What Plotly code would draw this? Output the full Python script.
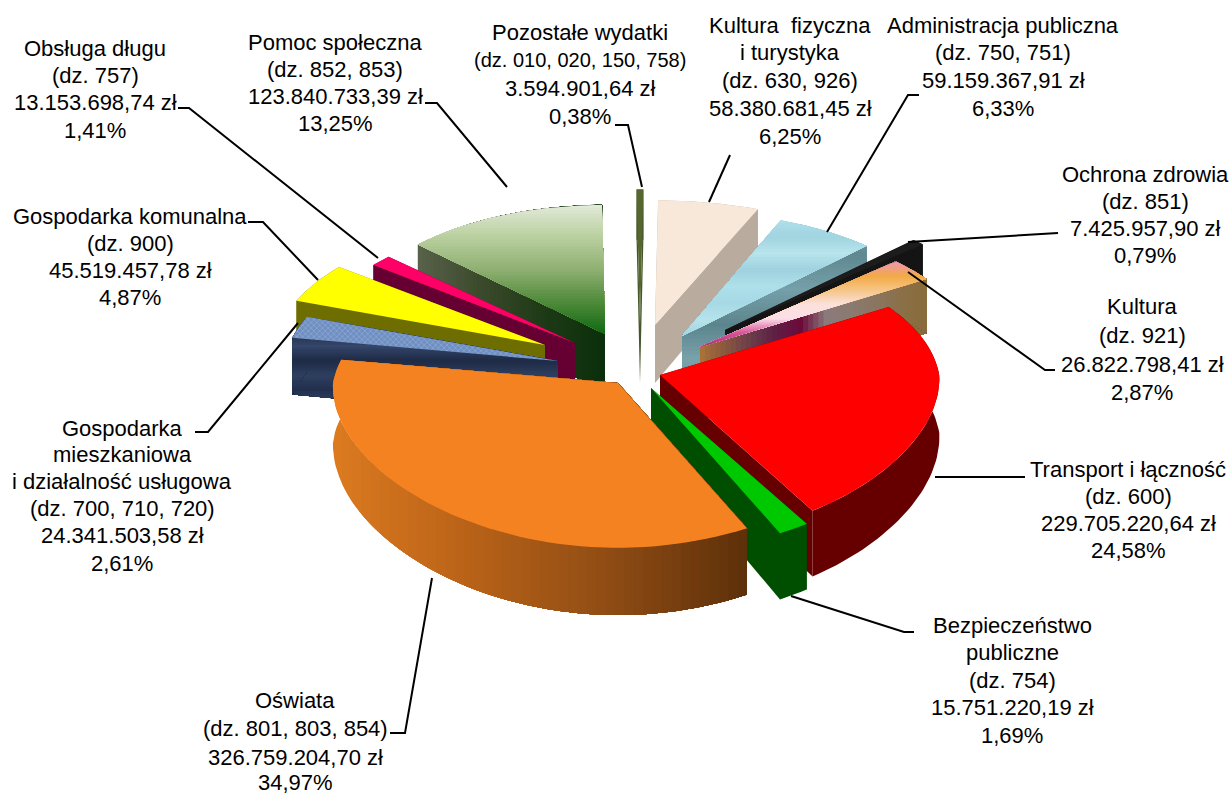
import math
import plotly.graph_objects as go

# ---------- data ----------
ORDER_NAMES = ["Pozostałe", "Kultura fizyczna", "Administracja", "Ochrona zdrowia", "Kultura",
               "Transport", "Bezpieczeństwo", "Oświata", "Mieszkaniowa", "Komunalna", "Dług", "Pomoc"]
AMOUNTS = [3594901.64, 58380681.45, 59159367.91, 7425957.90, 26822798.41, 229705220.64,
           15751220.19, 326759204.70, 24341503.58, 45519457.78, 13153698.74, 123840733.39]
PERCENTS = [0.38, 6.25, 6.33, 0.79, 2.87, 24.58, 1.69, 34.97, 2.61, 4.87, 1.41, 13.25]
TITLES = [
    ["Pozostałe wydatki", "(dz. 010, 020, 150, 758)"],
    ["Kultura  fizyczna", "i turystyka", "(dz. 630, 926)"],
    ["Administracja publiczna", "(dz. 750, 751)"],
    ["Ochrona zdrowia", "(dz. 851)"],
    ["Kultura", "(dz. 921)"],
    ["Transport i łączność", "(dz. 600)"],
    ["Bezpieczeństwo", "publiczne", "(dz. 754)"],
    ["Oświata", "(dz. 801, 803, 854)"],
    ["Gospodarka", "mieszkaniowa", "i działalność usługowa", "(dz. 700, 710, 720)"],
    ["Gospodarka komunalna", "(dz. 900)"],
    ["Obsługa długu", "(dz. 757)"],
    ["Pomoc społeczna", "(dz. 852, 853)"],
]

# ---------- layout of the exploded pie (pixels, not data) ----------
START_DEG = -0.7
RX, RY, K, H = 285, 142, 0.138, 58
APEX = [(640, 325), (655, 325), (682, 336), (725, 330), (700, 347), (660, 375),
        (651, 388), (618, 383), (558, 361), (545, 345), (575, 343), (605, 334)]
RADIUS = [1.1, 1, 1, 1, 1, 1, 1, 1, 1, 1, 1, 1.04]
X_FACTOR = [1, 1, 0.96, 0.98, 0.97, 0.98, 1, 1, 0.96, 0.95, 0.93, 0.9]
PAINT = [11, 10, 9, 8, 0, 1, 2, 3, 4, 5, 6, 7]
LABEL_POS = [  # centre x, y of each line
    (580, [32, 60, 88, 116]),
    (790, [25, 52, 80, 108, 136]),
    (1003, [25, 52, 80, 108]),
    (1145, [174, 201, 228, 255]),
    (1142, [306, 335, 364, 392]),
    (1128, [469, 496, 523, 550]),
    (1012, [625, 652, 680, 707, 735]),
    (295, [700, 728, 757, 782]),
    (122, [428, 454, 481, 508, 535, 563]),
    (130, [216, 243, 270, 297]),
    (95, [48, 75, 102, 130]),
    (335, [42, 69, 96, 123]),
]
SMALL_LINES = {"(dz. 010, 020, 150, 758)": 20}
LEADERS = [
    [(615, 125), (628, 125), (642, 187)],
    [(730, 155), (709, 202)],
    [(919, 95), (908, 95), (827, 232)],
    [(1058, 233), (908, 242)],
    [(1055, 370), (1045, 370), (908, 272)],
    [(1025, 477), (935, 477)],
    [(791, 596), (904, 632), (914, 632)],
    [(432, 578), (405, 733), (390, 733)],
    [(195, 432), (208, 432), (298, 323)],
    [(248, 222), (263, 222), (318, 280)],
    [(178, 108), (189, 108), (378, 258)],
    [(425, 103), (437, 103), (507, 187)],
]
STYLE = [
    dict(top=["#55662f", "#55662f"], wall=["#46562a", "#46562a"]),
    dict(top=["#f8e8da", "#f8e8da"], wall=["#b9ac9f", "#b9ac9f"]),
    dict(top=["#aee0ea", "#a0d4e0", "#b8e4ec", "#9fd2de", "#aee0ea", "#a6d9e5", "#b6e3eb", "#a2d5e1"],
         wall=["#7fa6ae", "#5f8891", "#76a0a9", "#5b848d", "#7aa2ab", "#6a939c"], wall_axis="y"),
    dict(top=["#1c1c1c", "#1c1c1c"], wall=["#141414", "#141414"]),
    dict(top=["#ef97b5", "#f2a945", "#f5c585", "#fbe0da", "#fbdfe8", "#d9559a", "#a83070"],
         wall=["#a87138", "#8a5840", "#6a3d4a", "#5e1f45", "#6c0a3a", "#8b7a7b", "#8a7a70",
               "#8a7560", "#8a7048", "#8a6c3a"]),
    dict(top=["#ff0000", "#ff0000"], wall=["#660000", "#660000"]),
    dict(top=["#00c800", "#00c800"], wall=["#004f00", "#004f00"]),
    dict(top=["#f58220", "#f58220"], wall=["#dc7a20", "#b86218", "#8f4c14", "#5d300a"]),
    dict(top=["#7d9bcb", "#7d9bcb"], wall=["#2b3a5c", "#1f2c47", "#34466a", "#1e2a45", "#2e3f60", "#212f4c", "#33446a", "#263552"],
         wall_axis="y", pattern=True),
    dict(top=["#ffff00", "#ffff00"], wall=["#6e6e00", "#6e6e00"]),
    dict(top=["#ff0066", "#ff0066"], wall=["#660033", "#660033"]),
    dict(top=["#e2ead9", "#b8cf9e", "#8fb072", "#4f8a3a", "#0f6a12"],
         wall=["#58624a", "#3c4a2c", "#1e3a16", "#0a2f0a"]),
]

N_ARC = 60
N_BAND = 44


def project(apex, r, deg, xf=1.0, z=0.0):
    t = math.radians(deg)
    d = r * math.cos(t)
    s = 1 / (1 + K * d)
    sx = 1 - 0.09 * d if d > 0 else 1 - 0.025 * d
    return (apex[0] + RX * xf * r * math.sin(t) * sx, apex[1] - RY * r * math.cos(t) * s + z * H * s)


def hex_rgb(c):
    return tuple(int(c[i:i + 2], 16) for i in (1, 3, 5))


def mix(stops, t):
    p = t * (len(stops) - 1)
    i = min(int(p), len(stops) - 2)
    a, b = hex_rgb(stops[i]), hex_rgb(stops[i + 1])
    f = p - i
    return "rgb(%d,%d,%d)" % tuple(round(a[j] + (b[j] - a[j]) * f) for j in range(3))


def clip(poly, axis, c):
    out = []
    for i, p in enumerate(poly):
        q = poly[(i + 1) % len(poly)]
        pin, qin = p[axis] >= c, q[axis] >= c
        if pin:
            out.append(p)
        if pin != qin:
            f = (c - p[axis]) / (q[axis] - p[axis])
            out.append((p[0] + (q[0] - p[0]) * f, p[1] + (q[1] - p[1]) * f))
    return out


fig = go.Figure()


def add_poly(poly, color, pattern=None):
    xs = [p[0] for p in poly] + [poly[0][0]]
    ys = [p[1] for p in poly] + [poly[0][1]]
    kw = {}
    if pattern:
        kw["fillpattern"] = pattern
    fig.add_trace(go.Scatter(x=xs, y=ys, mode="lines", fill="toself", fillcolor=color,
                             line=dict(width=0, color=color), hoverinfo="skip", showlegend=False, **kw))


def painted(poly, stops, axis, span=None):
    if len(set(stops)) == 1:
        add_poly(poly, stops[0])
        return
    vals = [p[axis] for p in poly]
    lo, hi = span if span else (min(vals), max(vals))
    add_poly(poly, mix(stops, 0))
    for b in range(1, N_BAND):
        c = lo + (hi - lo) * b / N_BAND
        part = clip(poly, axis, c)
        if len(part) >= 3:
            add_poly(part, mix(stops, (b + 0.5) / N_BAND))


total = sum(AMOUNTS)
angles = [START_DEG]
for a in AMOUNTS:
    angles.append(angles[-1] + 360 * a / total)

for i in PAINT:
    a0, a1, ap, r, xf, st = angles[i], angles[i + 1], APEX[i], RADIUS[i], X_FACTOR[i], STYLE[i]
    arc = [a0 + (a1 - a0) * n / N_ARC for n in range(N_ARC + 1)]
    top_arc = [project(ap, r, d, xf) for d in arc]
    bot_arc = [project(ap, r, d, xf, 1) for d in arc]
    base = (ap[0], ap[1] + H)
    wall_col = st["wall"]
    axis = 1 if st.get("wall_axis") == "y" else 0
    everything = [ap, base] + top_arc + bot_arc
    vals = [p[axis] for p in everything]
    span = (min(vals), max(vals))
    for tp, bt in ((top_arc[-1], bot_arc[-1]), (top_arc[0], bot_arc[0])):
        painted([ap, tp, bt, base], wall_col, axis, span)
    painted(top_arc + bot_arc[::-1], wall_col, axis, span)
    face = [ap] + top_arc
    if st.get("pattern"):
        add_poly(face, st["top"][0], dict(shape="x", fgcolor="#a9bfe0", bgcolor="#6f8fc2", size=4, solidity=0.35))
    else:
        painted(face, st["top"], 1)

for pts in LEADERS:
    fig.add_trace(go.Scatter(x=[p[0] for p in pts], y=[p[1] for p in pts], mode="lines",
                             line=dict(color="#000000", width=2), hoverinfo="skip", showlegend=False))


def money(v):
    whole, frac = f"{v:,.2f}".split(".")
    return whole.replace(",", ".") + "," + frac + " zł"


annotations = []
for i, title in enumerate(TITLES):
    lines = title + [money(AMOUNTS[i]), f"{PERCENTS[i]:.2f}%".replace(".", ",")]
    cx, ys = LABEL_POS[i]
    for txt, y in zip(lines, ys):
        annotations.append(dict(x=cx, y=y, text=txt, showarrow=False, xref="x", yref="y",
                                xanchor="center", yanchor="middle",
                                font=dict(family="Liberation Sans", size=SMALL_LINES.get(txt, 22), color="#000000")))

fig.update_layout(
    width=1231, height=796, margin=dict(l=0, r=0, t=0, b=0),
    paper_bgcolor="#ffffff", plot_bgcolor="#ffffff", showlegend=False,
    xaxis=dict(range=[0, 1231], visible=False, fixedrange=True),
    yaxis=dict(range=[796, 0], visible=False, fixedrange=True),
    annotations=annotations,
)
fig.write_html("out.html", config={"displayModeBar": False},
               post_script="document.body.style.margin='0';document.body.style.overflow='hidden';")
